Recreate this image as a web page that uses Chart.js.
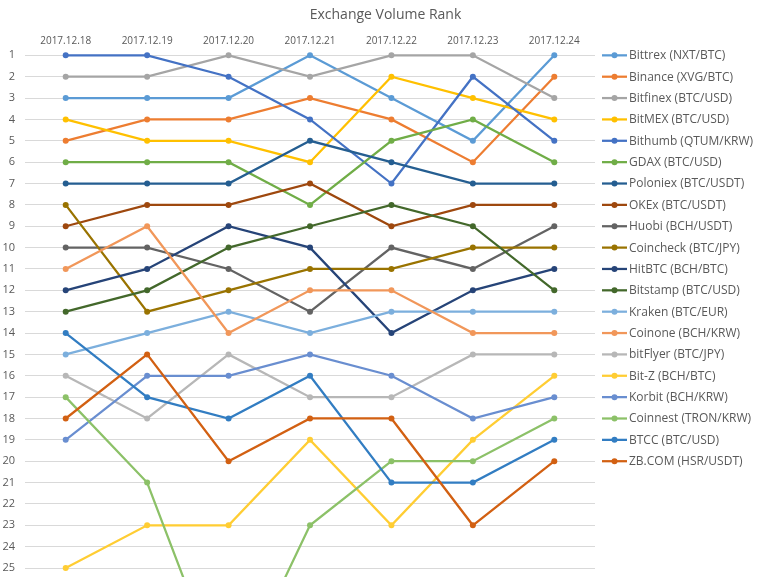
<!DOCTYPE html>
<html>
<head>
<meta charset="utf-8">
<script src="https://cdn.jsdelivr.net/npm/chart.js@4.4.0/dist/chart.umd.min.js"></script>
<style>
  html, body { margin: 0; padding: 0; background: #fff; overflow: hidden; }
  #wrap { width: 768px; height: 580px; position: relative; }
</style>
</head>
<body>
<div id="wrap"><canvas id="chart"></canvas></div>
<script>
// dates along the top
const dates = ['2017.12.18', '2017.12.19', '2017.12.20', '2017.12.21', '2017.12.22', '2017.12.23', '2017.12.24'];
const rankTicks = [1,2,3,4,5,6,7,8,9,10,11,12,13,14,15,16,17,18,19,20,21,22,23,24,25];

const names = [
  'Bittrex (NXT/BTC)', 'Binance (XVG/BTC)', 'Bitfinex (BTC/USD)', 'BitMEX (BTC/USD)',
  'Bithumb (QTUM/KRW)', 'GDAX (BTC/USD)', 'Poloniex (BTC/USDT)', 'OKEx (BTC/USDT)',
  'Huobi (BCH/USDT)', 'Coincheck (BTC/JPY)', 'HitBTC (BCH/BTC)', 'Bitstamp (BTC/USD)',
  'Kraken (BTC/EUR)', 'Coinone (BCH/KRW)', 'bitFlyer (BTC/JPY)', 'Bit-Z (BCH/BTC)',
  'Korbit (BCH/KRW)', 'Coinnest (TRON/KRW)', 'BTCC (BTC/USD)', 'ZB.COM (HSR/USDT)'
];

// ranks per exchange, one per date
const bittrex   = [3, 3, 3, 1, 3, 5, 1];
const binance   = [5, 4, 4, 3, 4, 6, 2];
const bitfinex  = [2, 2, 1, 2, 1, 1, 3];
const bitmex    = [4, 5, 5, 6, 2, 3, 4];
const bithumb   = [1, 1, 2, 4, 7, 2, 5];
const gdax      = [6, 6, 6, 8, 5, 4, 6];
const poloniex  = [7, 7, 7, 5, 6, 7, 7];
const okex      = [9, 8, 8, 7, 9, 8, 8];
const huobi     = [10, 10, 11, 13, 10, 11, 9];
const coincheck = [8, 13, 12, 11, 11, 10, 10];
const hitbtc    = [12, 11, 9, 10, 14, 12, 11];
const bitstamp  = [13, 12, 10, 9, 8, 9, 12];
const kraken    = [15, 14, 13, 14, 13, 13, 13];
const coinone   = [11, 9, 14, 12, 12, 14, 14];
const bitflyer  = [16, 18, 15, 17, 17, 15, 15];
const bitz      = [25, 23, 23, 19, 23, 19, 16];
const korbit    = [19, 16, 16, 15, 16, 18, 17];
const coinnest  = [17, 21, 31, 23, 20, 20, 18];
const btcc      = [14, 17, 18, 16, 21, 21, 19];
const zbcom     = [18, 15, 20, 18, 18, 23, 20];

const series = [bittrex, binance, bitfinex, bitmex, bithumb, gdax, poloniex, okex, huobi, coincheck,
  hitbtc, bitstamp, kraken, coinone, bitflyer, bitz, korbit, coinnest, btcc, zbcom];

const colors = ['#5B9BD5', '#ED7D31', '#A5A5A5', '#FFC000', '#4472C4', '#70AD47', '#255E91', '#9E480E',
  '#636363', '#997300', '#264478', '#43682B', '#7CAFDD', '#F1975A', '#B7B7B7', '#FFCD33',
  '#698ED0', '#8CC168', '#327DC2', '#D26012'];

const FONT = "'Open Sans', sans-serif";
const TXT = '#595959';

// legend drawn in the right margin, one row per rank line
const sideLegend = {
  id: 'sideLegend',
  afterDraw(chart) {
    const ctx = chart.ctx;
    const y = chart.scales.y;
    const x0 = chart.chartArea.right + 7;
    ctx.save();
    ctx.font = '12px ' + FONT;
    ctx.textBaseline = 'middle';
    chart.data.datasets.forEach((ds, i) => {
      const py = y.getPixelForValue(rankTicks[i]);
      ctx.strokeStyle = ds.borderColor;
      ctx.lineWidth = 2.25;
      ctx.beginPath();
      ctx.moveTo(x0, py);
      ctx.lineTo(x0 + 25, py);
      ctx.stroke();
      ctx.fillStyle = ds.borderColor;
      ctx.beginPath();
      ctx.arc(x0 + 12.5, py, 3, 0, Math.PI * 2);
      ctx.fill();
      ctx.fillStyle = TXT;
      ctx.fillText(ds.label, x0 + 27, py + 0.5);
    });
    ctx.restore();
  }
};

new Chart(document.getElementById('chart'), {
  type: 'line',
  data: {
    labels: dates,
    datasets: series.map((d, i) => ({
      label: names[i],
      data: d,
      borderColor: colors[i],
      backgroundColor: colors[i],
      borderWidth: 2.25,
      pointRadius: 3,
      pointBorderWidth: 0,
      pointHoverRadius: 3,
      tension: 0,
      order: -i
    }))
  },
  options: {
    responsive: true,
    maintainAspectRatio: false,
    animation: false,
    layout: { padding: { left: 3, right: 0, top: 0, bottom: 0 } },
    plugins: {
      legend: { display: false },
      tooltip: { enabled: false },
      title: {
        display: true,
        text: 'Exchange Volume Rank',
        color: TXT,
        font: { family: FONT, size: 14, weight: 'normal' },
        padding: { top: 7, bottom: 11 }
      }
    },
    scales: {
      x: {
        position: 'top',
        offset: true,
        grid: { display: false, drawTicks: false },
        border: { display: false },
        ticks: { color: TXT, font: { family: FONT, size: 10 }, padding: 0, maxRotation: 0 }
      },
      y: {
        reverse: true,
        min: 0.6,
        max: 25.42,
        afterBuildTicks: axis => { axis.ticks = rankTicks.map(v => ({ value: v })); },
        afterFit: axis => { axis.width = 22; axis.paddingTop = 0; axis.paddingBottom = 0; },
        grid: { color: '#D9D9D9', lineWidth: 1, drawTicks: false },
        border: { display: false },
        ticks: { color: TXT, font: { family: FONT, size: 11 }, padding: 10 }
      },
      // empty right-hand box that keeps room for the legend
      side: {
        position: 'right',
        grid: { display: false, drawTicks: false },
        border: { display: false },
        ticks: { display: false },
        afterFit: axis => { axis.width = 173; axis.paddingTop = 0; axis.paddingBottom = 0; }
      }
    }
  },
  plugins: [sideLegend]
});
</script>
</body>
</html>
